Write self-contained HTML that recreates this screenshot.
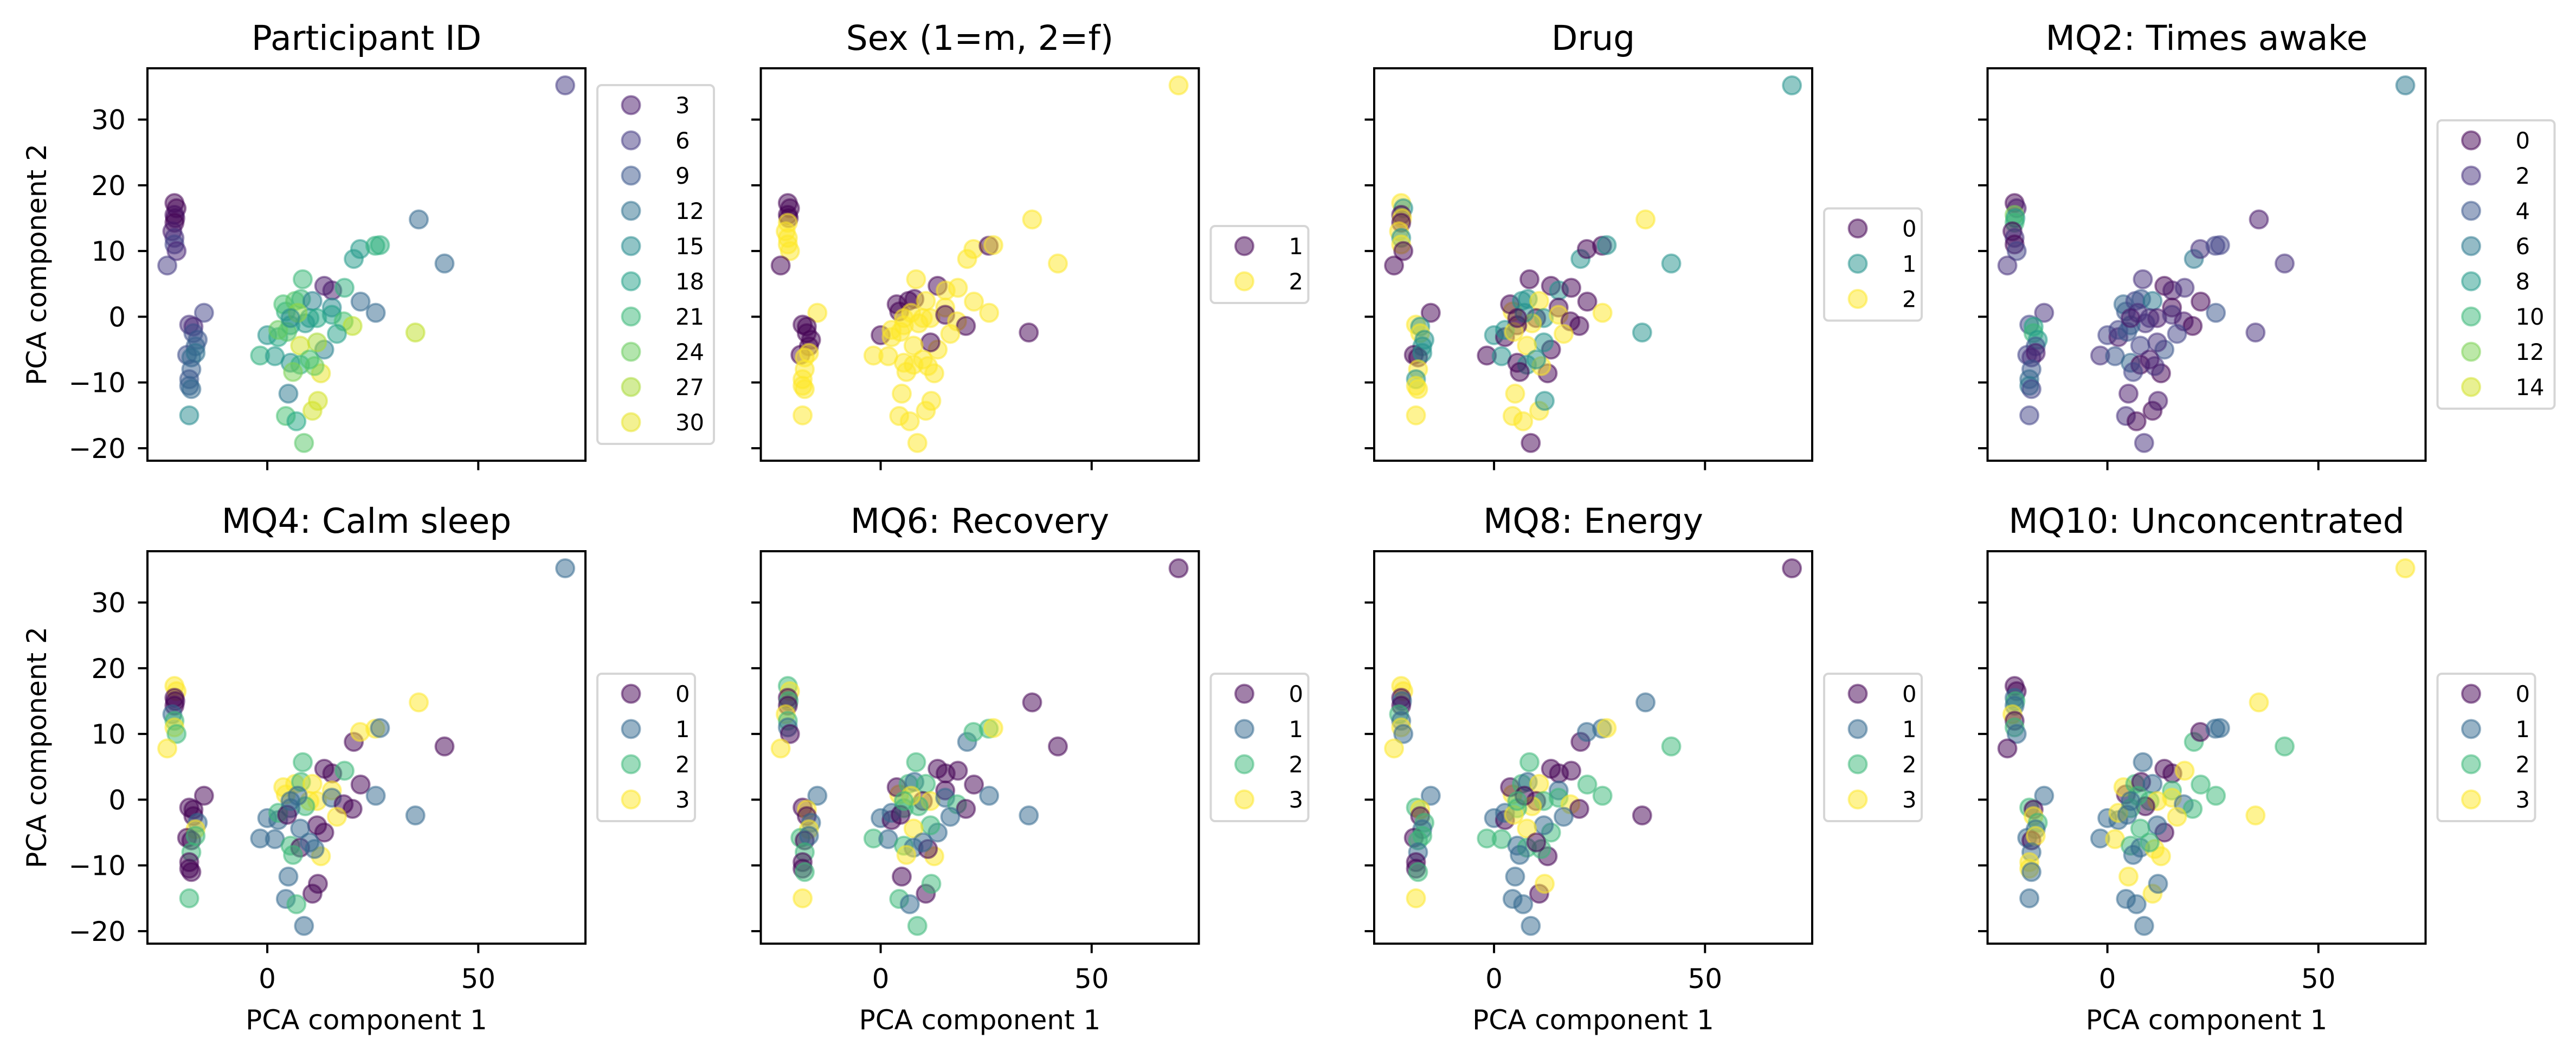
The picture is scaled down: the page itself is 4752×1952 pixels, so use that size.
<!DOCTYPE html>
<html><head><meta charset="utf-8"><style>
html,body{margin:0;padding:0;background:#fff;}
svg{display:block;}
text{font-family:"DejaVu Sans","Liberation Sans",sans-serif;fill:#000;}
</style></head>
<body>
<svg id="fig" width="4752" height="1952" viewBox="0 0 4752 1952" xmlns="http://www.w3.org/2000/svg"></svg>
<script>
// shared PCA coordinates
const pcaX = [-22,-21.5,-22,-21.8,-22,-22.5,-22,-22,-21.5,-23.7,
 -15,-18.5,-17.5,-17.5,-16.5,-17,-19,-18,-17,-18,-18.5,-18.5,-18,-18.5,
 70.6,
 8.4,13.5,15.4,18.3,22.1,25.7,35.9,42,35.1,20.5,22,25.6,26.7,5,4.4,6.9,8.7,10.7,12,12.7,
 -1.7,0,4.4,3.8,6.6,8,10.7,10,11.8,15.3,15.3,18.1,20.2,16.5,13.5,11.8,7.8,2.6,1.8,5.5,7.8,11.2,6.1,10,9,5.5,2.6,4.7,7.2,5.5];
const pcaY = [17.3,16.5,15.5,15,14.3,13,12,11,10,7.8,
 0.6,-1.2,-1.5,-2.5,-3.5,-4.5,-5.8,-6.2,-5.5,-8,-9.5,-10.5,-11,-15,
 35.2,
 5.7,4.7,4,4.4,2.3,0.6,14.8,8.1,-2.4,8.8,10.3,10.8,10.9,-11.7,-15.1,-15.9,-19.2,-14.3,-12.8,-8.6,
 -5.9,-2.8,0.8,1.9,2.4,2.7,2.4,-0.2,-0.2,1.4,0.3,-0.7,-1.4,-2.6,-5,-3.9,-4.4,-3.1,-6,-7,-7.3,-7.5,-8.4,-6.5,-1,-1.3,-2,-2.3,0.6,-0.2];
// per-panel colour values
const participantId = [1,1,2,2,1,3,5,7,4,6, 7,5,4,8,9,10,8,11,12,10,9,10,11,15, 6,
 21,3,3,20,11,11,11,11,28,17,17,20,20,13,22,19,23,29,29,30,
 20,16,20,22,23,21,14,17,19,15,18,22,28,18,14,27,29,19,17,16,20,24,25,22,17,18,24,23,26,15];
const sexVals = [1,1,1,1,2,2,2,2,2,1, 2,1,1,1,1,1,1,2,2,2,2,2,2,2, 2,
 2,1,2,2,2,2,2,2,1,2,2,1,2,2,2,2,2,2,2,2,
 2,1,1,1,1,1,2,2,2,2,1,2,1,2,2,1,2,2,2,2,2,2,2,2,2,2,2,2,2,2];
const drugVals = [2,1,0,2,0,2,1,2,0,0, 0,2,1,2,1,1,0,0,1,2,1,2,2,2, 1,
 0,0,1,0,0,2,2,1,1,1,0,0,1,2,2,2,0,2,1,0,
 0,1,2,0,1,1,2,0,1,0,2,0,0,2,0,1,2,0,1,0,1,2,0,1,2,0,1,2,1,0];
const mq2Vals = [0,1,12,8,10,0,2,0,3,2, 2,3,9,10,8,4,3,2,1,4,5,6,3,3, 6,
 2,0,1,2,0,4,1,2,2,6,2,3,3,1,2,0,2,0,1,0,
 2,3,4,5,3,4,6,2,1,0,2,1,0,3,4,2,3,1,4,5,0,2,3,1,2,5,3,4,2,1];
const mq4Vals = [3,3,0,0,0,1,2,3,2,3, 0,0,0,0,1,3,0,0,2,2,0,0,0,2, 1,
 2,0,0,2,0,1,3,0,1,0,3,3,1,1,1,2,1,0,0,3,
 1,1,3,3,3,2,3,3,3,3,1,0,0,3,0,0,1,1,1,2,0,1,2,1,2,1,2,0,1,1];
const mq6Vals = [2,3,0,2,0,3,2,1,0,3, 1,0,3,0,1,3,2,0,1,2,0,0,2,3, 0,
 2,0,0,0,0,1,0,0,1,1,2,2,3,0,2,1,2,0,2,3,
 2,1,3,0,2,1,2,0,3,0,1,2,0,1,1,2,3,0,1,2,1,0,3,1,2,2,1,0,3,2];
const mq8Vals = [3,3,0,1,0,2,1,3,1,3, 1,2,3,0,2,1,0,2,2,1,0,0,2,3, 0,
 2,0,0,0,2,2,1,2,0,0,1,1,3,1,1,1,1,0,3,0,
 2,1,3,0,2,1,3,0,2,1,2,3,0,1,2,1,3,0,2,1,2,2,1,0,3,2,1,3,0,2];
const mq10Vals = [0,0,1,2,1,3,0,2,1,0, 1,2,0,3,2,1,1,0,3,1,3,3,1,1, 3,
 1,0,0,3,2,2,3,2,3,2,0,1,1,3,1,1,1,3,1,3,
 1,1,0,3,2,0,1,2,3,2,3,1,2,3,0,1,2,1,3,2,1,3,1,2,0,2,3,1,2,1];
// panel titles and legend labels
const titles = ["Participant ID","Sex (1=m, 2=f)","Drug","MQ2: Times awake","MQ4: Calm sleep","MQ6: Recovery","MQ8: Energy","MQ10: Unconcentrated"];
const legendPid = [3,6,9,12,15,18,21,24,27,30];
const legendSex = [1,2];
const legendDrug = [0,1,2];
const legendMq2 = [0,2,4,6,8,10,12,14];
const legendMq = [0,1,2,3];
const xTicks = [0,50];
const yTicks = [-20,-10,0,10,20,30];

const panels = [
 {vals:participantId, leg:legendPid, vmin:1, vmax:31},
 {vals:sexVals, leg:legendSex, vmin:1, vmax:2},
 {vals:drugVals, leg:legendDrug, vmin:0, vmax:2},
 {vals:mq2Vals, leg:legendMq2, vmin:0, vmax:15},
 {vals:mq4Vals, leg:legendMq, vmin:0, vmax:3},
 {vals:mq6Vals, leg:legendMq, vmin:0, vmax:3},
 {vals:mq8Vals, leg:legendMq, vmin:0, vmax:3},
 {vals:mq10Vals, leg:legendMq, vmin:0, vmax:3}
];

const VIR = ["#440154","#482475","#414487","#355f8d","#2a788e","#21918c","#22a884","#44bf70","#7ad151","#bddf26","#fde725"];
function hex(h){return [parseInt(h.substr(1,2),16),parseInt(h.substr(3,2),16),parseInt(h.substr(5,2),16)];}
function viridis(t){
  t=Math.max(0,Math.min(1,t));
  const f=t*10, i=Math.min(9,Math.floor(f)), r=f-i;
  const a=hex(VIR[i]), b=hex(VIR[i+1]);
  return "rgb("+a.map((v,k)=>Math.round(v+(b[k]-v)*r)).join(",")+")";
}

const NS="http://www.w3.org/2000/svg";
const svg=document.getElementById("fig");
function mk(tag,attrs,parent){const e=document.createElementNS(NS,tag);for(const k in attrs)e.setAttribute(k,attrs[k]);(parent||svg).appendChild(e);return e;}

const colL=[272,1403.5,2535,3666.5], W=808;
const rowT=[126,1017], H=724;
const XMIN=-28.4, XMAX=75.4, YMIN=-21.9, YMAX=37.8;
const legW=[215,180,180,216,180,180,180,180];

panels.forEach((p,pi)=>{
  const col=pi%4, row=Math.floor(pi/4);
  const L=colL[col], T=rowT[row];
  const sx=v=>L+(v-XMIN)/(XMAX-XMIN)*W;
  const sy=v=>T+(YMAX-v)/(YMAX-YMIN)*H;
  const g=mk("g",{});
  
  
  const t=mk("text",{x:L+W/2,y:T-34,"text-anchor":"middle","font-size":63},g);
  t.textContent=titles[pi];
  
  
  // points
  const pts=mk("g",{},g);
  
  
  p.vals.forEach((v,i)=>{
    const c=viridis((v-p.vmin)/(p.vmax-p.vmin));
    const cc=mk("circle",{cx:sx(pcaX[i]),cy:sy(pcaY[i]),r:16.5,fill:c,"fill-opacity":0.5,stroke:c,"stroke-opacity":0.5,"stroke-width":4},pts);
    
    
  });
  // frame
  const fr=mk("rect",{x:L,y:T,width:W,height:H,fill:"none",stroke:"#000","stroke-width":4},g);
  
  
  // ticks
  xTicks.forEach(v=>{
    const x=sx(v);
    const tk=mk("line",{x1:x,y1:T+H,x2:x,y2:T+H+17.5,stroke:"#000","stroke-width":4},g);
    
    
    if(row===1){
      const tl=mk("text",{x:x,y:T+H+82,"text-anchor":"middle","font-size":50},g);
      tl.textContent=String(v);
      
      
    }
  });
  yTicks.forEach(v=>{
    const y=sy(v);
    const tk=mk("line",{x1:L-17.5,y1:y,x2:L,y2:y,stroke:"#000","stroke-width":4},g);
    
    
    if(col===0){
      const tl=mk("text",{x:L-40,y:y+18,"text-anchor":"end","font-size":50},g);
      tl.textContent=v<0?"\u2212"+(-v):String(v);
      
      
    }
  });
  if(row===1){
    const xl=mk("text",{x:L+W/2,y:1899,"text-anchor":"middle","font-size":50},g);
    xl.textContent="PCA component 1";
    
    
  }
  if(col===0){
    const cy=T+H/2;
    const yl=mk("text",{x:0,y:0,"text-anchor":"middle","font-size":50,transform:"translate(85,"+cy+") rotate(-90)"},g);
    yl.textContent="PCA component 2";
    
    
  }
  // legend
  const n=p.leg.length, lh=(n-1)*65+77, lw=legW[pi];
  const lx=L+W+22, ly=T+H/2-lh/2;
  const lg=mk("g",{},g);
  
  
  mk("rect",{x:lx,y:ly,width:lw,height:lh,rx:8,fill:"#fff","fill-opacity":0.8,stroke:"#d6d6d6","stroke-width":4},lg);
  p.leg.forEach((v,k)=>{
    const c=viridis((v-p.vmin)/(p.vmax-p.vmin));
    const ey=ly+37+k*65;
    const e=mk("g",{},lg);
    
    
    mk("circle",{cx:lx+62,cy:ey,r:16.5,fill:c,"fill-opacity":0.5,stroke:c,"stroke-opacity":0.5,"stroke-width":4},e);
    const lt=mk("text",{x:lx+144,y:ey+15,"font-size":41.7},e);
    lt.textContent=String(v);
  });
});
</script>
</body></html>
